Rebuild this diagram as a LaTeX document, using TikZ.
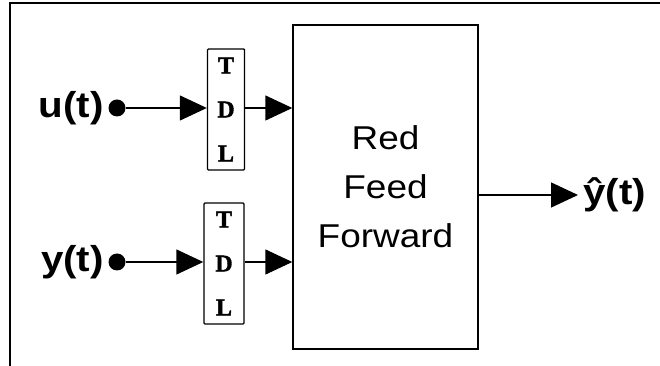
\documentclass[tikz,border=0pt]{standalone}
\usepackage{fontspec}
\setmainfont{Liberation Sans}
\newfontfamily\widefont[FakeStretch=1.12]{Liberation Sans}
\newfontfamily\tdlfont[FakeBold=1.5]{Liberation Serif}
\usetikzlibrary{arrows.meta,positioning}

\begin{document}
\begin{tikzpicture}[x=1pt,y=1pt,
        sig/.style={line width=1.4pt,-{Triangle[length=27pt,width=25pt]}},
        blockbox/.style={draw,line width=1.4pt,minimum width=185pt,minimum height=324pt,
            align=center,font=\widefont\fontsize{33}{49}\selectfont},
        tdlbox/.style={draw,line width=1.4pt,rounded corners=1pt,inner sep=0pt,
            minimum height=121pt,align=center,font=\tdlfont\bfseries\fontsize{24}{44}\selectfont},
        dot/.style={circle,fill,inner sep=0pt,minimum size=17pt},
        sigtext/.style={font=\widefont\bfseries\fontsize{36}{40}\selectfont}]
    \useasboundingbox (0,0) rectangle (660,366);
    \draw[line width=1.6pt] (10,0) -- (10,363) -- (660,363);
    \node[blockbox] (main) at (385.5,179) {Red\\Feed\\Forward};
    \node[tdlbox,minimum width=37pt] (tdlu) at (226,256.5) {T\\D\\L};
    \node[tdlbox,minimum width=40pt] (tdly) at (224,102.5) {T\\D\\L};
    \node[dot] (dotu) at (117,258) {};
    \node[dot] (doty) at (117,104) {};
    \node[sigtext,left=1pt of dotu] (lblu) {u(t)};
    \node[sigtext,left=1pt of doty] (lbly) {y(t)};
    \coordinate (out) at (578,171);
    \node[sigtext,right=2pt of out] (lblout) {ŷ(t)};
    \draw[sig] (dotu) -- (tdlu.west |- dotu);
    \draw[sig] (doty) -- (tdly.west |- doty);
    \draw[sig] (tdlu.east |- dotu) -- (main.west |- dotu);
    \draw[sig] (tdly.east |- doty) -- (main.west |- doty);
    \draw[sig] (main.east |- out) -- (out);
\end{tikzpicture}
\end{document}
